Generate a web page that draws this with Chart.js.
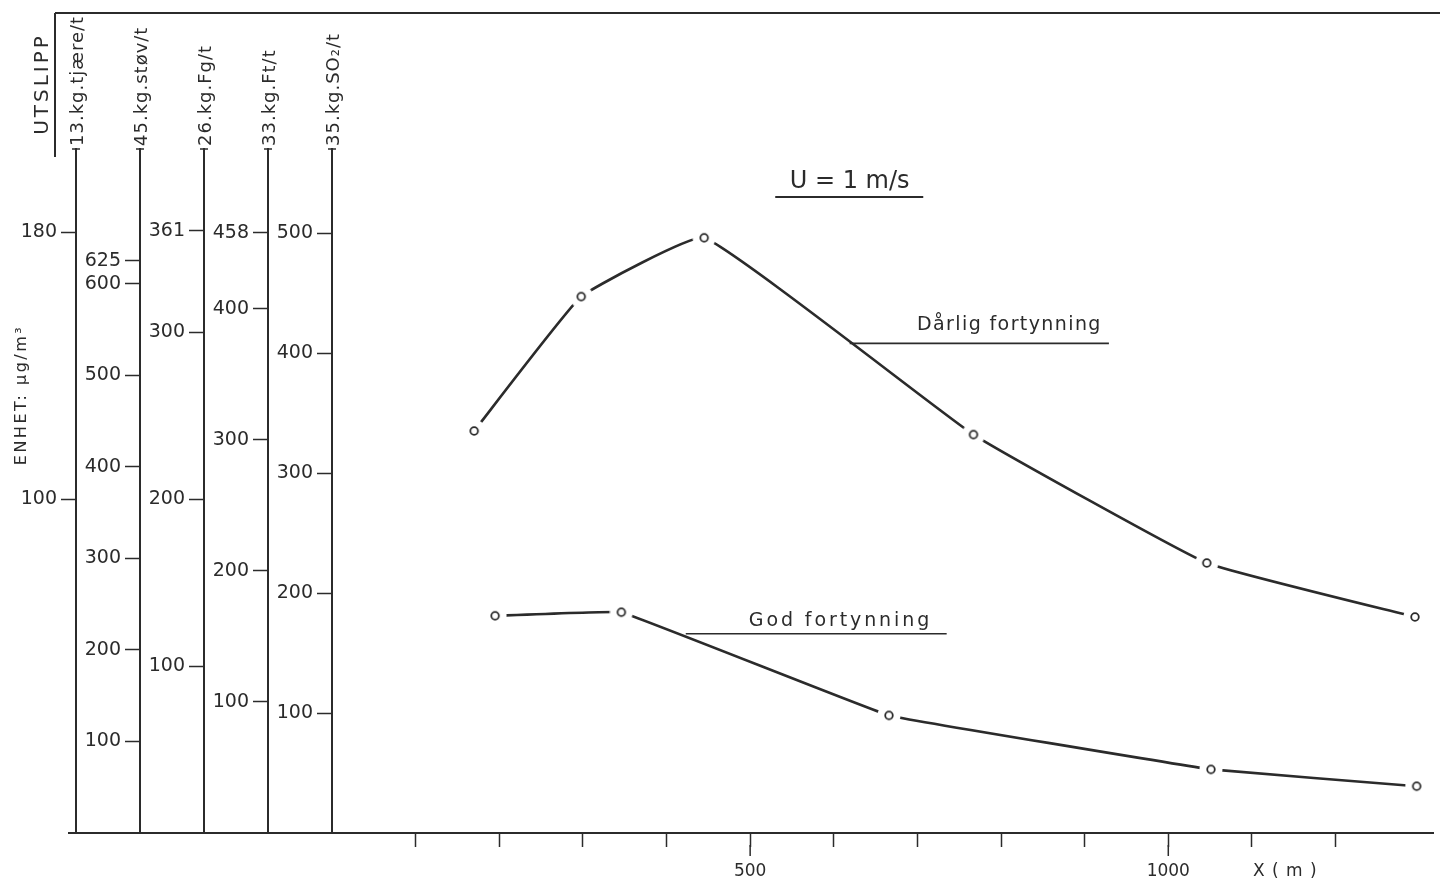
<!DOCTYPE html>
<html>
<head>
<meta charset="utf-8">
<script src="https://cdn.jsdelivr.net/npm/chart.js@4"></script>
<style>
  html, body { margin: 0; padding: 0; background: #fff; }
  #wrap { width: 1440px; height: 880px; }
</style>
</head>
<body>
<div id="wrap"><canvas id="chart"></canvas></div>
<script>
// avstand fra kilden (m) og konsentrasjon (lest av SO2-skalaen)
const darligX = [170, 298, 445, 767, 1046, 1295];
const darligY = [335, 447, 496, 332, 225, 180];
const godX = [195, 346, 666, 1051, 1297];
const godY = [181, 184, 98, 53, 39];

const xTicks = [100, 200, 300, 400, 500, 600, 700, 800, 900, 1000, 1100, 1200];
const xLabels = [500, 1000];
const xMax = 1317;

// en akse per utslipp
const axisNames = ['13.kg.tjære/t', '45.kg.støv/t', '26.kg.Fg/t', '33.kg.Ft/t', '35.kg.SO₂/t'];
const axisTicks = [
    [100, 180],
    [100, 200, 300, 400, 500, 600, 625],
    [100, 200, 300, 361],
    [100, 200, 300, 400, 458],
    [100, 200, 300, 400, 500]
];
const axisMax = [205, 747, 410, 522, 570];

const ink = '#2b2b2b';
const family = "'DejaVu Sans', sans-serif";

// liten sirkel med hvit ring rundt, slik at linja stopper litt foran punktet
function makeMarker() {
    const c = document.createElement('canvas');
    c.width = 24; c.height = 24;
    const g = c.getContext('2d');
    g.fillStyle = '#fff';
    g.beginPath(); g.arc(12, 12, 11.5, 0, Math.PI * 2); g.fill();
    g.strokeStyle = ink; g.lineWidth = 1.8;
    g.beginPath(); g.arc(12, 12, 3.8, 0, Math.PI * 2); g.stroke();
    return c;
}
const marker = makeMarker();

function line(ctx, x1, y1, x2, y2) {
    ctx.beginPath(); ctx.moveTo(x1, y1); ctx.lineTo(x2, y2); ctx.stroke();
}

function text(ctx, s, x, y, size, spacing, align, rotate) {
    ctx.save();
    ctx.translate(x, y);
    if (rotate) ctx.rotate(-Math.PI / 2);
    ctx.font = size + 'px ' + family;
    ctx.letterSpacing = spacing + 'px';
    ctx.textAlign = align;
    ctx.textBaseline = 'middle';
    ctx.fillText(s, 0, 0);
    ctx.restore();
}

const drawing = {
    id: 'drawing',
    afterDraw(chart) {
        const ctx = chart.ctx;
        const a = chart.chartArea;
        const x = chart.scales.x;
        const y = chart.scales.y5;
        ctx.save();
        ctx.strokeStyle = ink;
        ctx.fillStyle = ink;

        // ramme oppe og linja ved UTSLIPP
        ctx.lineWidth = 2;
        line(ctx, 55, 13, 1440, 13);
        line(ctx, 55, 13, 55, 157);
        text(ctx, 'UTSLIPP', 43, 84, 20, 3, 'center', true);
        text(ctx, 'ENHET: μg/m³', 22, 395, 16, 2.5, 'center', true);

        // grunnlinja fortsetter under aksene
        line(ctx, chart.scales.y1.right - 8, a.bottom, a.left, a.bottom);

        axisNames.forEach((name, i) => {
            const s = chart.scales['y' + (i + 1)];
            ctx.lineWidth = 1.5;
            line(ctx, s.right - 4, a.top, s.right + 4, a.top);
            text(ctx, name, s.right + 2, a.top - 3, 18, 1, 'left', true);
        });

        // lengre streker ved 500 og 1000
        ctx.lineWidth = 1.5;
        xLabels.forEach(v => {
            const px = x.getPixelForValue(v);
            line(ctx, px, a.bottom + 12, px, a.bottom + 23);
        });
        text(ctx, 'X ( m )', x.getPixelForValue(1140), a.bottom + 39, 17, 1, 'center', false);

        // U = 1 m/s
        text(ctx, 'U = 1 m/s', x.getPixelForValue(619), y.getPixelForValue(543), 24, 0, 'center', false);
        ctx.lineWidth = 2;
        line(ctx, x.getPixelForValue(530), y.getPixelForValue(530), x.getPixelForValue(707), y.getPixelForValue(530));

        // kurvenavn
        text(ctx, 'Dårlig fortynning', x.getPixelForValue(810), y.getPixelForValue(423), 19, 1.4, 'center', false);
        ctx.lineWidth = 1.6;
        line(ctx, x.getPixelForValue(619), y.getPixelForValue(408), x.getPixelForValue(929), y.getPixelForValue(408));
        text(ctx, 'God fortynning', x.getPixelForValue(608), y.getPixelForValue(177), 19, 2.9, 'center', false);
        line(ctx, x.getPixelForValue(423), y.getPixelForValue(166), x.getPixelForValue(735), y.getPixelForValue(166));

        ctx.restore();
    }
};

function yAxis(i) {
    return {
        type: 'linear',
        axis: 'y',
        position: 'left',
        weight: 5 - i,
        min: 0,
        max: axisMax[i],
        afterBuildTicks: s => { s.ticks = axisTicks[i].map(v => ({ value: v })); },
        afterFit: s => { s.width = 64; },
        border: { color: ink, width: 2 },
        grid: { drawOnChartArea: false, drawTicks: true, tickLength: 15, tickColor: ink, tickWidth: 1.5 },
        ticks: { autoSkip: false, padding: 4, color: ink, font: { family: family, size: 19 }, callback: v => String(v) }
    };
}

const scales = {
    x: {
        type: 'linear',
        position: 'bottom',
        min: 0,
        max: xMax,
        afterBuildTicks: s => { s.ticks = xTicks.map(v => ({ value: v })); },
        afterFit: s => { s.height = 47; },
        border: { color: ink, width: 2 },
        grid: { drawOnChartArea: false, drawTicks: true, tickLength: 14, tickColor: ink, tickWidth: 1.5 },
        ticks: {
            autoSkip: false, maxRotation: 0, padding: 14, color: ink,
            font: { family: family, size: 17 },
            callback: v => xLabels.includes(v) ? String(v) : ''
        }
    }
};
axisNames.forEach((n, i) => { scales['y' + (i + 1)] = yAxis(i); });

new Chart(document.getElementById('chart'), {
    type: 'line',
    data: {
        datasets: [
            {
                label: 'Dårlig fortynning',
                data: darligX.map((v, i) => ({ x: v, y: darligY[i] })),
                yAxisID: 'y5',
                borderColor: ink,
                borderWidth: 2.6,
                tension: 0.1,
                pointStyle: marker,
                clip: false
            },
            {
                label: 'God fortynning',
                data: godX.map((v, i) => ({ x: v, y: godY[i] })),
                yAxisID: 'y5',
                borderColor: ink,
                borderWidth: 2.6,
                tension: 0.05,
                pointStyle: marker,
                clip: false
            }
        ]
    },
    options: {
        responsive: true,
        maintainAspectRatio: false,
        animation: false,
        layout: { padding: { left: 12, top: 149, right: 0, bottom: 0 } },
        plugins: { legend: { display: false }, tooltip: { enabled: false } },
        scales: scales
    },
    plugins: [drawing]
});
</script>
</body>
</html>
